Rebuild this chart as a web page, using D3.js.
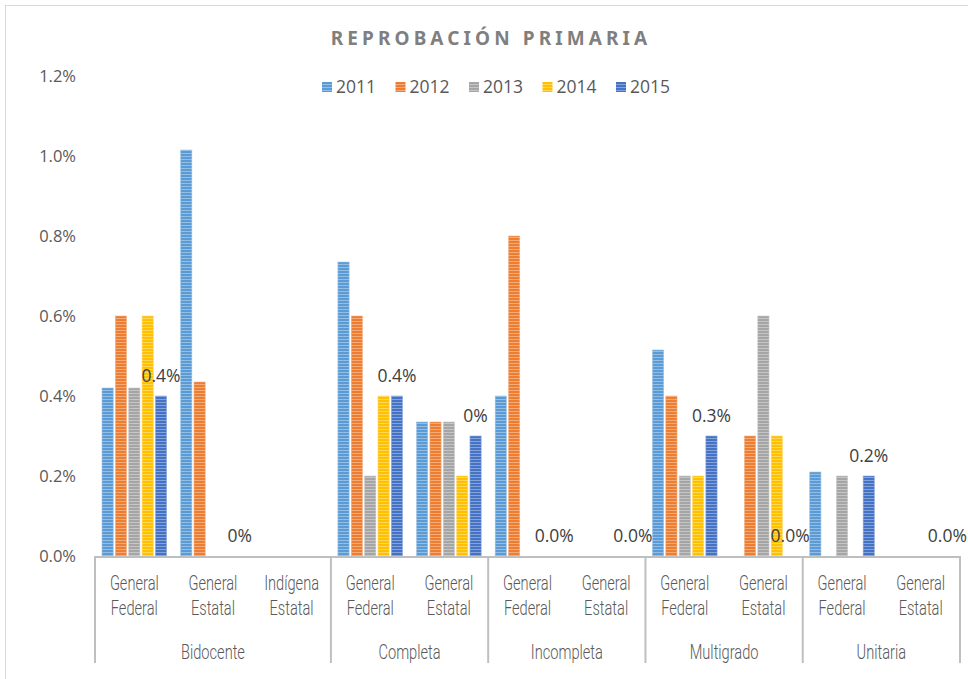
<!DOCTYPE html>
<html>
<head>
<meta charset="utf-8">
<script src="https://cdn.jsdelivr.net/npm/d3@7"></script>
<style>
	body { margin:0; background:#fff; }
	svg { display:block; }
</style>
</head>
<body>
<div id="svgContainer"></div>
<script>
// data (values in %)
var years = ["2011", "2012", "2013", "2014", "2015"];
var subCategories = ["General Federal", "General Estatal", "Indígena Estatal",
	"General Federal", "General Estatal",
	"General Federal", "General Estatal",
	"General Federal", "General Estatal",
	"General Federal", "General Estatal"];
var groupNames = ["Bidocente", "Bidocente", "Bidocente",
	"Completa", "Completa",
	"Incompleta", "Incompleta",
	"Multigrado", "Multigrado",
	"Unitaria", "Unitaria"];
var v2011 = [0.42, 1.015, 0, 0.735, 0.335, 0.40, 0, 0.515, 0, 0.21, 0];
var v2012 = [0.60, 0.435, 0, 0.60, 0.335, 0.80, 0, 0.40, 0.30, 0, 0];
var v2013 = [0.42, 0, 0, 0.20, 0.335, 0, 0, 0.20, 0.60, 0.20, 0];
var v2014 = [0.60, 0, 0, 0.40, 0.20, 0, 0, 0.20, 0.30, 0, 0];
var v2015 = [0.40, 0, 0, 0.40, 0.30, 0, 0, 0.30, 0, 0.20, 0];
var labels2015 = ["0.4%", "0%", "", "0.4%", "0%", "0.0%", "0.0%", "0.3%", "0.0%", "0.2%", "0.0%"];
var yTicks = [0, 0.2, 0.4, 0.6, 0.8, 1.0, 1.2];
var colors = ["#5B9BD5", "#ED7D31", "#A5A5A5", "#FFC000", "#4472C4"];

var series = [v2011, v2012, v2013, v2014, v2015];

const width = 968, height = 679;
const plot = {left:95, right:960, top:76, bottom:556};
const textGrey = "#595959";

var svg = d3.select("#svgContainer").append("svg")
	.attr("width", width)
	.attr("height", height);

// striped fills, like the excel pattern
var defs = svg.append("defs");
colors.forEach(function (c, i) {
	var p = defs.append("pattern")
		.attr("id", "stripe" + i)
		.attr("patternUnits", "userSpaceOnUse")
		.attr("width", 4).attr("height", 3);
	p.append("rect").attr("width", 4).attr("height", 3).attr("fill", c);
	p.append("rect").attr("width", 4).attr("height", 1)
		.attr("fill", d3.interpolateRgb(c, "#fff")(0.35));
});

// chart border
svg.append("rect")
	.attr("x", 5.5).attr("y", 5.5)
	.attr("width", 980).attr("height", 700)
	.attr("fill", "none")
	.attr("stroke", "#d9d9d9");

// scales
var idx = d3.range(subCategories.length);
var x0 = d3.scaleBand().domain(idx).range([plot.left, plot.right]);
var x1 = d3.scaleBand().domain(d3.range(years.length))
	.range([7, x0.bandwidth() - 7])
	.paddingInner(0.16);
var yScale = d3.scaleLinear().domain([0, 1.2]).range([plot.bottom, plot.top]);

// title
svg.append("text")
	.attr("x", 491).attr("y", 45)
	.attr("text-anchor", "middle")
	.style("font-family", "'Noto Sans', sans-serif")
	.style("font-size", "19px")
	.style("font-weight", "bold")
	.style("letter-spacing", "4.1px")
	.attr("fill", "#7f7f7f")
	.text("REPROBACIÓN PRIMARIA");

// legend
var legend = svg.append("g").attr("class", "legend")
	.selectAll("g")
	.data(years)
	.enter().append("g")
	.attr("transform", function (d, i) { return "translate(" + (322 + i * 73.5) + ",87)"; });
legend.append("rect")
	.attr("x", 0).attr("y", -5)
	.attr("width", 10).attr("height", 10)
	.attr("fill", function (d, i) { return "url(#stripe" + i + ")"; });
legend.append("text")
	.attr("x", 14).attr("y", 6)
	.style("font-family", "'Open Sans', sans-serif")
	.style("font-size", "17.5px")
	.attr("fill", textGrey)
	.text(function (d) { return d; });

// y axis, labels only
var yAxis = d3.axisLeft(yScale)
	.tickValues(yTicks)
	.tickSize(0)
	.tickPadding(0)
	.tickFormat(function (d) { return d3.format(".1f")(d) + "%"; });
var yG = svg.append("g")
	.attr("transform", "translate(76,0)")
	.call(yAxis);
yG.select(".domain").remove();
yG.selectAll("text")
	.style("font-family", "'Open Sans', sans-serif")
	.style("font-size", "16.5px")
	.attr("fill", textGrey);

// bars
var bars = svg.append("g").attr("class", "bars");
series.forEach(function (vals, s) {
	bars.selectAll(".bar" + s)
		.data(vals)
		.enter().append("rect")
		.attr("class", "bar" + s)
		.attr("x", function (d, i) { return x0(i) + x1(s); })
		.attr("width", x1.bandwidth())
		.attr("y", function (d) { return yScale(d); })
		.attr("height", function (d) { return plot.bottom - yScale(d); })
		.attr("fill", "url(#stripe" + s + ")")
		.attr("stroke", d3.interpolateRgb(colors[s], "#fff")(0.4))
		.attr("stroke-width", 0.6)
		.style("display", function (d) { return d > 0 ? null : "none"; });
});

// data labels on the 2015 series
svg.append("g").attr("class", "labels")
	.selectAll("text")
	.data(v2015)
	.enter().append("text")
	.attr("x", function (d, i) { return x0(i) + x1(4) + x1.bandwidth() / 2; })
	.attr("y", function (d) { return yScale(d) - 14; })
	.attr("text-anchor", "middle")
	.style("font-family", "'Open Sans', sans-serif")
	.style("font-size", "17.5px")
	.attr("fill", "#404040")
	.text(function (d, i) { return labels2015[i]; });

// category axis (two levels)
var axisG = svg.append("g").attr("class", "x axis");
axisG.append("line")
	.attr("x1", plot.left - 1).attr("x2", plot.right + 1)
	.attr("y1", plot.bottom + 1).attr("y2", plot.bottom + 1)
	.attr("stroke", "#bfbfbf").attr("stroke-width", 2);

var groups = [];
groupNames.forEach(function (g, i) {
	var last = groups[groups.length - 1];
	if (last && last.name === g) last.end = i;
	else groups.push({name:g, start:i, end:i});
});

var boundaries = groups.map(function (g) { return x0(g.start); }).concat([plot.right]);
axisG.selectAll(".sep")
	.data(boundaries)
	.enter().append("line")
	.attr("class", "sep")
	.attr("x1", function (d) { return d; }).attr("x2", function (d) { return d; })
	.attr("y1", plot.bottom).attr("y2", 663)
	.attr("stroke", "#bfbfbf").attr("stroke-width", 2);

var catFont = "'Roboto', 'Open Sans', sans-serif";
var sub = axisG.selectAll(".sub")
	.data(subCategories)
	.enter().append("text")
	.attr("class", "sub")
	.attr("text-anchor", "middle")
	.attr("transform", function (d, i) {
		return "translate(" + (x0(i) + x0.bandwidth() / 2) + ",0) scale(0.86,1.15)";
	})
	.style("font-family", catFont)
	.style("font-weight", 300)
	.style("font-size", "17px")
	.attr("fill", textGrey);
sub.append("tspan").attr("x", 0).attr("y", 590 / 1.15)
	.text(function (d) { return d.split(" ")[0]; });
sub.append("tspan").attr("x", 0).attr("y", 615 / 1.15)
	.text(function (d) { return d.split(" ")[1]; });

axisG.selectAll(".grp")
	.data(groups)
	.enter().append("text")
	.attr("class", "grp")
	.attr("text-anchor", "middle")
	.attr("transform", function (g) {
		var cx = (x0(g.start) + x0(g.end) + x0.bandwidth()) / 2;
		return "translate(" + cx + ",659) scale(0.86,1.15)";
	})
	.style("font-family", catFont)
	.style("font-weight", 300)
	.style("font-size", "17px")
	.attr("fill", textGrey)
	.text(function (g) { return g.name; });
</script>
</body>
</html>
